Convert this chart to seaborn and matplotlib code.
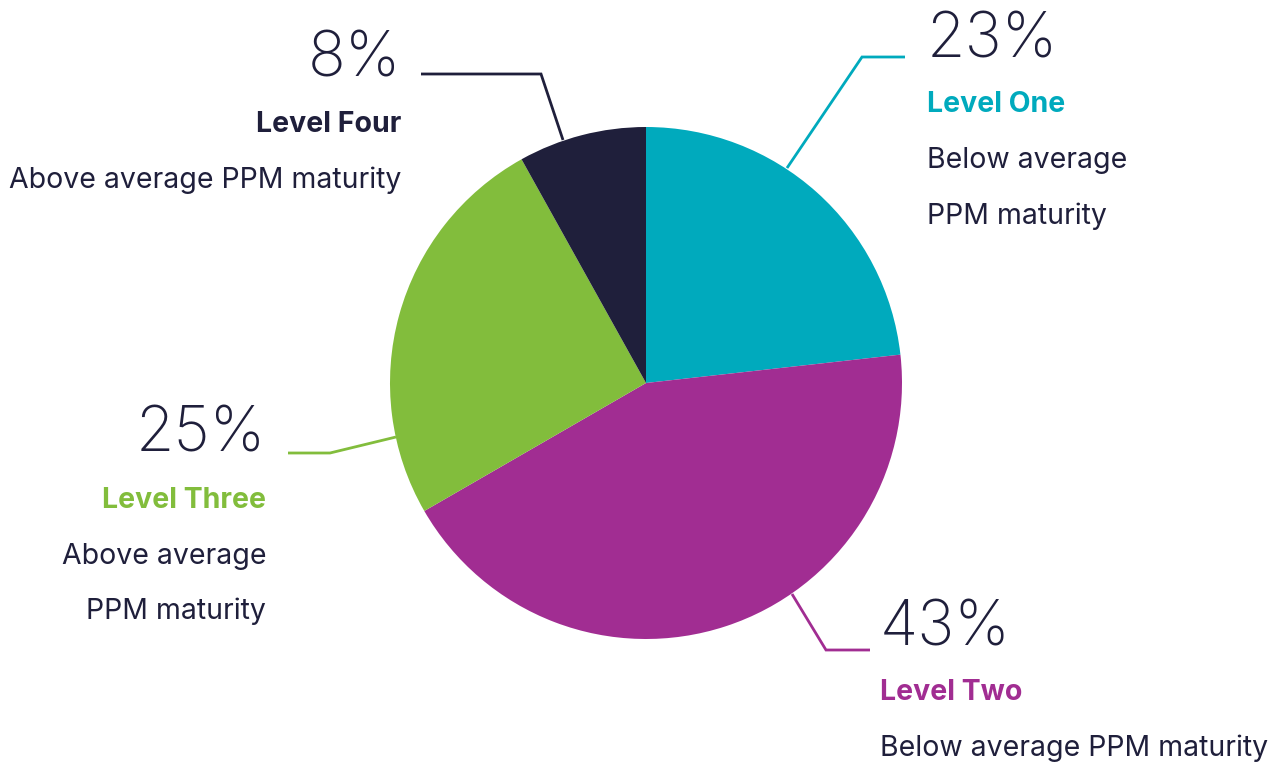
import matplotlib
matplotlib.use("Agg")
import matplotlib.pyplot as plt
import seaborn as sns

sns.set_theme(style="white")
plt.rcParams['font.family'] = ['Inter', 'DejaVu Sans']

labels = ["Level One", "Level Two", "Level Three", "Level Four"]
values = [23, 43, 25, 8]
pct_labels = ["23%", "43%", "25%", "8%"]
descriptions = ["Below average\nPPM maturity", "Below average PPM maturity",
                "Above average\nPPM maturity", "Above average PPM maturity"]
colors = ["#00AABD", "#A12D92", "#82BD3C", "#1F1F3B"]
text_dark = "#1F1F3B"

W, H = 1285, 763
fig = plt.figure(figsize=(W / 100, H / 100), dpi=100)
ax = fig.add_axes([0, 0, 1, 1])

def Y(py):
    return H - py

ax.pie(values, colors=colors, startangle=90, counterclock=False,
       center=(646, Y(383)), radius=256, frame=True,
       wedgeprops=dict(linewidth=0))
ax.set_xlim(0, W)
ax.set_ylim(0, H)
ax.set_aspect("equal")
ax.axis("off")

# leader lines (pixel coords)
leaders = [
    [(787, 168), (862, 57), (905, 57)],
    [(792, 594), (826, 650), (870, 650)],
    [(396, 437), (330, 453), (288, 453)],
    [(563, 140), (541, 74), (421, 74)],
]
for pts, c in zip(leaders, colors):
    ax.plot([p[0] for p in pts], [Y(p[1]) for p in pts], color=c, lw=2,
            solid_capstyle="butt", solid_joinstyle="miter")

# text blocks: (x, ha, y_pct, y_label, y_desc lines)
blocks = [
    (927, "left", 41, 105, [160, 216]),
    (880, "left", 629, 693, [748]),
    (266, "right", 435, 500, [556, 611]),
    (401, "right", 60, 125, [180]),
]
for i, (x, ha, yp, yl, yds) in enumerate(blocks):
    ax.text(x, Y(yp), pct_labels[i], ha=ha, va="center", fontsize=45,
            fontweight="light", color=text_dark)
    ax.text(x, Y(yl), labels[i], ha=ha, va="center", fontsize=20.5,
            fontweight="bold", color=colors[i] if i != 3 else text_dark)
    for line, yd in zip(descriptions[i].split("\n"), yds):
        ax.text(x, Y(yd), line, ha=ha, va="center", fontsize=20.5,
                color=text_dark)

fig.savefig("out.png", dpi=100, facecolor="white")
